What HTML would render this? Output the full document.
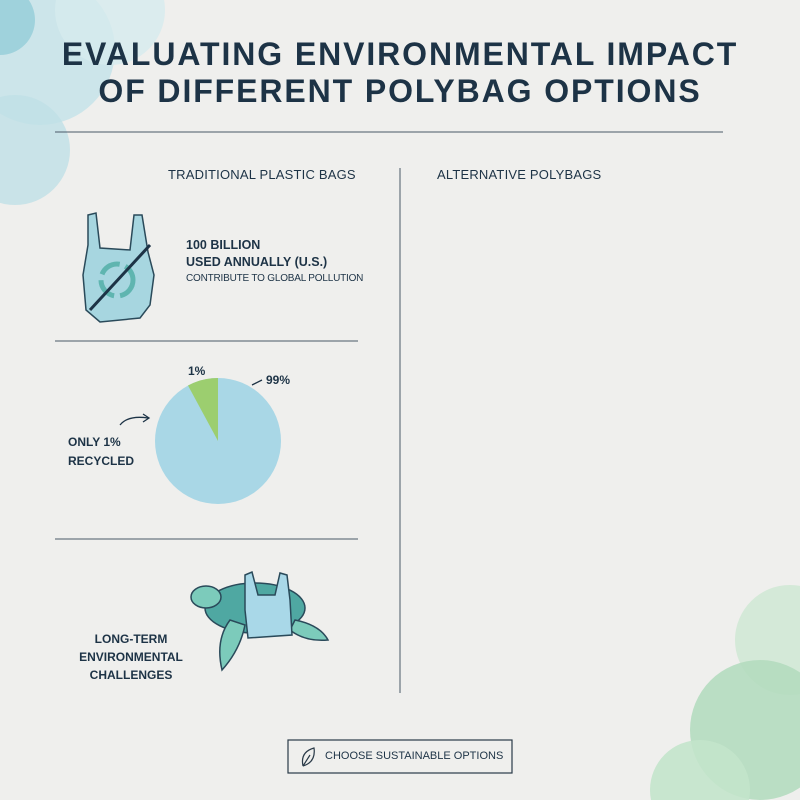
<!DOCTYPE html>
<html><head><style>
body{margin:0;width:800px;height:800px;background:#efefed;font-family:"Liberation Sans",sans-serif;color:#1d3346;position:relative;overflow:hidden}
.a{position:absolute}
.t{left:0;width:800px;text-align:center;font-weight:bold;font-size:32px;letter-spacing:1.9px}
.h{font-size:13px;letter-spacing:.2px}
.b{font-weight:bold}
</style></head><body>
<svg class="a" style="left:0;top:0" width="800" height="800">
<circle cx="40" cy="50" r="75" fill="#c3e2e8" opacity=".8"/>
<circle cx="110" cy="10" r="55" fill="#d6ebee" opacity=".8"/>
<circle cx="15" cy="150" r="55" fill="#bfe0e6" opacity=".8"/>
<circle cx="0" cy="20" r="35" fill="#9fd2dc"/>
<circle cx="790" cy="640" r="55" fill="#cde7d2" opacity=".8"/>
<circle cx="760" cy="730" r="70" fill="#b4dcbf" opacity=".9"/>
<circle cx="700" cy="790" r="50" fill="#c3e4cb" opacity=".9"/>
<line x1="55" y1="132" x2="723" y2="132" stroke="#4a5a68" stroke-width="1"/>
<line x1="400" y1="168" x2="400" y2="693" stroke="#4a5a68" stroke-width="1"/>
<line x1="55" y1="341" x2="358" y2="341" stroke="#4a5a68" stroke-width="1"/>
<line x1="55" y1="539" x2="358" y2="539" stroke="#4a5a68" stroke-width="1"/>
<path d="M88 215 L96 213 L100 248 L130 250 L134 215 L142 215 L148 252 L154 275 L150 305 L140 318 L100 322 L86 310 L83 275 L88 245 Z" fill="#a7d6e0" stroke="#2a4a5a" stroke-width="1.5"/>
<circle cx="117" cy="280" r="16" fill="none" stroke="#5fb5b0" stroke-width="5" stroke-dasharray="22 6"/>
<line x1="90" y1="310" x2="150" y2="245" stroke="#1d3346" stroke-width="3"/>
<circle cx="218" cy="441" r="63" fill="#a9d7e6"/>
<path d="M218 441 L218 378 A63 63 0 0 0 188 385.5 Z" fill="#9cce6f"/>
<path d="M120 425 Q128 415 148 418" fill="none" stroke="#1d3346" stroke-width="1.3"/>
<path d="M143 414 L149 418 L143 422" fill="none" stroke="#1d3346" stroke-width="1.3"/>
<line x1="252" y1="385" x2="262" y2="380" stroke="#1d3346" stroke-width="1.3"/>
<ellipse cx="255" cy="608" rx="50" ry="25" fill="#4fa8a2" stroke="#2a4a5a" stroke-width="1.5"/>
<ellipse cx="206" cy="597" rx="15" ry="11" fill="#7ccbbb" stroke="#2a4a5a" stroke-width="1.5"/>
<path d="M230 620 Q215 640 222 670 Q240 650 245 625Z" fill="#7ccbbb" stroke="#2a4a5a" stroke-width="1.5"/>
<path d="M295 620 Q320 625 328 640 Q305 642 290 630Z" fill="#7ccbbb" stroke="#2a4a5a" stroke-width="1.5"/>
<path d="M245 575 L252 572 L258 595 L275 595 L280 573 L287 575 L290 600 L292 635 L248 638 L245 610Z" fill="#a9d8e8" stroke="#2a4a5a" stroke-width="1.5"/>
<rect x="288" y="740" width="224" height="33" fill="none" stroke="#2a3a48" stroke-width="1.2"/>
<path d="M303 766 Q300 752 314 748 Q316 762 303 766 M303 766 L310 755" fill="none" stroke="#2a3a48" stroke-width="1.2"/>
</svg>
<div class="a t" style="top:36px">EVALUATING ENVIRONMENTAL IMPACT</div>
<div class="a t" style="top:73px">OF DIFFERENT POLYBAG OPTIONS</div>
<div class="a h" style="left:168px;top:167px">TRADITIONAL PLASTIC BAGS</div>
<div class="a h" style="left:437px;top:167px">ALTERNATIVE POLYBAGS</div>
<div class="a b" style="left:186px;top:237px;font-size:12.5px;line-height:17px">100 BILLION<br>USED ANNUALLY (U.S.)</div>
<div class="a" style="left:186px;top:273px;font-size:10px;letter-spacing:-.2px">CONTRIBUTE TO GLOBAL POLLUTION</div>
<div class="a b" style="left:188px;top:364px;font-size:12px">1%</div>
<div class="a b" style="left:266px;top:373px;font-size:12px">99%</div>
<div class="a b" style="left:68px;top:433px;font-size:12px;line-height:19px">ONLY 1%<br>RECYCLED</div>
<div class="a b" style="left:66px;top:630px;font-size:12px;line-height:18px;text-align:center;width:130px">LONG-TERM<br>ENVIRONMENTAL<br>CHALLENGES</div>
<div class="a" style="left:325px;top:750px;font-size:11px">CHOOSE SUSTAINABLE OPTIONS</div>
</body></html>
